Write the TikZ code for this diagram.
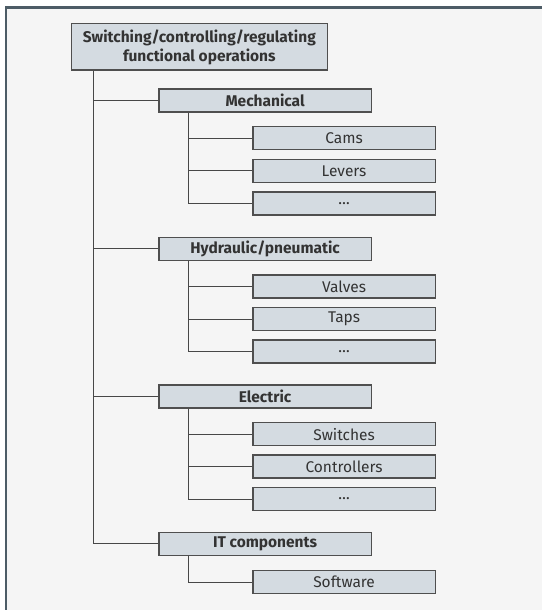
\documentclass[tikz,border=0pt]{standalone}
\usepackage{fontspec}
\setmainfont{Fira Sans}
\usetikzlibrary{calc}

\definecolor{framegrey}{HTML}{4D5C66}
\definecolor{panel}{HTML}{F5F5F5}
\definecolor{boxfill}{HTML}{D4DBE1}
\definecolor{boxline}{HTML}{4F4F4F}
\definecolor{wirecol}{HTML}{474747}
\definecolor{ink}{HTML}{333333}

\tikzset{
  box/.style={draw=boxline, line width=1.2pt, fill=boxfill, text=ink,
    inner sep=0pt, minimum height=23pt, anchor=north west,
    font=\fontsize{15.5}{18}\selectfont},
  head/.style={box, minimum width=212.4pt, font=\fontsize{15.5}{18}\selectfont\bfseries},
  item/.style={box, minimum width=182.4pt},
  wire/.style={draw=wirecol, line width=1pt}
}

\begin{document}
\begin{tikzpicture}[x=1pt, y=-1pt]
    \useasboundingbox (0,0) rectangle (542,610);
    % panel with its frame on top and left
    \fill[panel] (5,7) rectangle (542,610);
    \draw[framegrey, line width=2.5pt] (6.2,610) -- (6.2,7.3) -- (542,7.3);

    % root
    \node[box, minimum width=256pt, minimum height=46pt, align=center,
      font=\fontsize{15.5}{19}\selectfont\bfseries] (root) at (70.7,23.3)
      {Switching/controlling/regulating\\functional operations};

    % groups
    \node[head] (mech) at (158.3,88.3) {Mechanical};
    \node[head] (hyd) at (158.3,236.7) {Hydraulic/pneumatic};
    \node[head] (elec) at (158.3,384.3) {Electric};
    \node[head] (it) at (158.3,531.7) {IT components};

    % items
    \node[item] (mech1) at (252.3,126.0) {Cams};
    \node[item] (mech2) at (252.3,158.7) {Levers};
    \node[item] (mech3) at (252.3,191.3) {…};
    \node[item] (hyd1) at (252.3,274.3) {Valves};
    \node[item] (hyd2) at (252.3,307.0) {Taps};
    \node[item] (hyd3) at (252.3,339.3) {…};
    \node[item] (elec1) at (252.3,422.0) {Switches};
    \node[item] (elec2) at (252.3,454.3) {Controllers};
    \node[item] (elec3) at (252.3,487.0) {…};
    \node[item] (it1) at (252.3,570.0) {Software};

    % main trunk
    \coordinate (trunk) at ($(root.south west)+(22.6,0)$);
    \draw[wire] (trunk) |- (it.west);
    \foreach \g in {mech,hyd,elec}
        \draw[wire] (trunk |- \g.west) -- (\g.west);

    % sub trunks
    \foreach \g in {mech,hyd,elec} {
        \coordinate (\g root) at ($(\g.south west)+(30.4,0)$);
        \draw[wire] (\g root) |- (\g3.west);
        \draw[wire] (\g root |- \g1.west) -- (\g1.west);
        \draw[wire] (\g root |- \g2.west) -- (\g2.west);
    }
    \coordinate (itroot) at ($(it.south west)+(30.4,0)$);
    \draw[wire] (itroot) |- (it1.west);
\end{tikzpicture}
\end{document}
